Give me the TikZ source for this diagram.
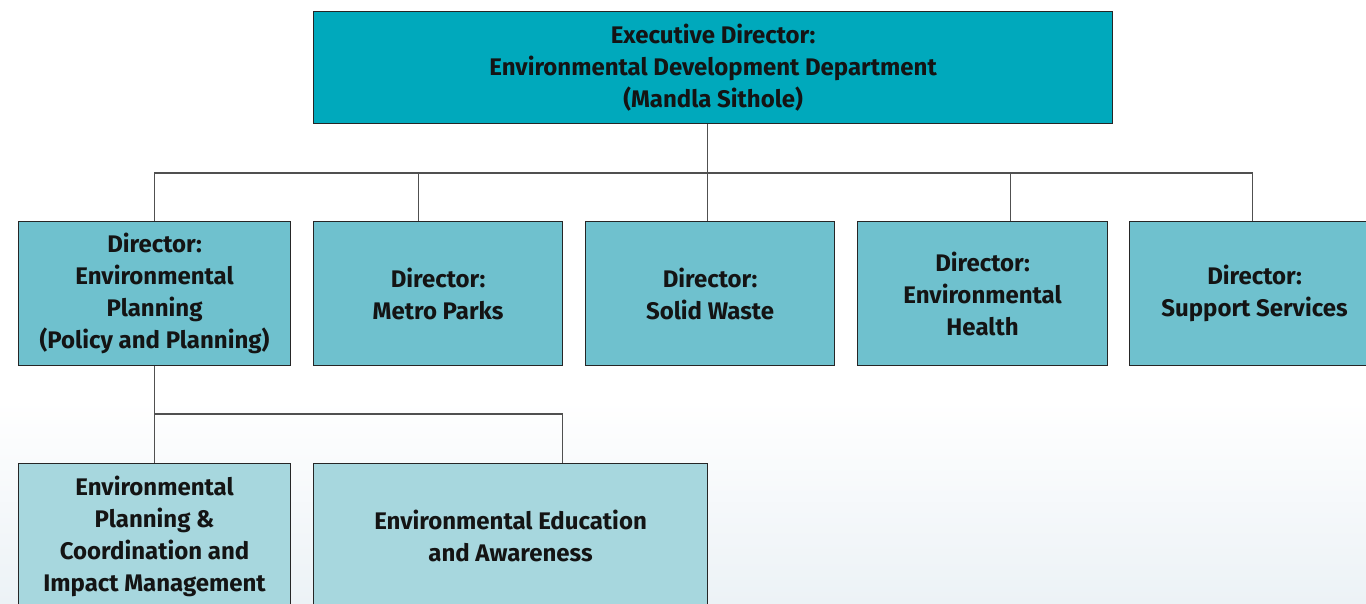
\documentclass[tikz,border=0pt]{standalone}
\usepackage{fontspec}
\setmainfont{Fira Sans}
\definecolor{cTop}{RGB}{0,169,188}
\definecolor{cMid}{RGB}{111,193,206}
\definecolor{cLow}{RGB}{167,215,222}
\definecolor{cBg}{RGB}{236,242,246}
\definecolor{cLine}{RGB}{80,80,80}
\begin{document}
\begin{tikzpicture}[x=1pt,y=-1pt,
  box/.style={draw=black!85, line width=1.1pt, anchor=north west, align=center,
    inner sep=0pt, font=\fontsize{24}{32}\selectfont\bfseries, text=black!92},
  topbox/.style={box, fill=cTop},
  midbox/.style={box, fill=cMid, minimum height=144pt},
  lowbox/.style={box, fill=cLow, minimum height=145pt},
  link/.style={draw=cLine, line width=1.4pt}]
\useasboundingbox (0,0) rectangle (1366,603);
\clip (0,0) rectangle (1366,603);
\shade[top color=white, bottom color=cBg] (0,400) rectangle (1366,603);
\node[topbox, minimum width=799pt, minimum height=112pt] (ed) at (313,11)
  {Executive Director:\\Environmental Development Department\\(Mandla Sithole)};
\node[midbox, minimum width=272pt] (ep) at (18,221)
  {Director:\\Environmental\\Planning\\(Policy and Planning)};
\node[midbox, minimum width=249pt] (mp) at (313,221) {Director:\\Metro Parks};
\node[midbox, minimum width=249pt] (sw) at (585,221) {Director:\\Solid Waste};
\node[midbox, minimum width=250pt] (eh) at (857,221) {Director:\\Environmental\\Health};
\node[midbox, minimum width=250pt] (ss) at (1129,221) {Director:\\Support Services};
\node[lowbox, minimum width=272pt] (epc) at (18,463)
  {Environmental\\Planning \&\\Coordination and\\Impact Management};
\node[lowbox, minimum width=394pt] (eea) at (313,463)
  {Environmental Education\\and Awareness};
\draw[link] ([xshift=-5.5pt]ed.south) -- ([xshift=-2.5pt]sw.north);
\draw[link] (ep.north) -- ++(0,-48) -| ([xshift=-2pt]ss.north);
\draw[link] ([xshift=-19.5pt]mp.north) -- ++(0,-48);
\draw[link] ([xshift=28pt]eh.north) -- ++(0,-48);
\draw[link] (ep.south) -- ++(0,48) -| ([xshift=52pt]eea.north);
\draw[link] (epc.north) -- ++(0,-50);
\end{tikzpicture}
\end{document}
